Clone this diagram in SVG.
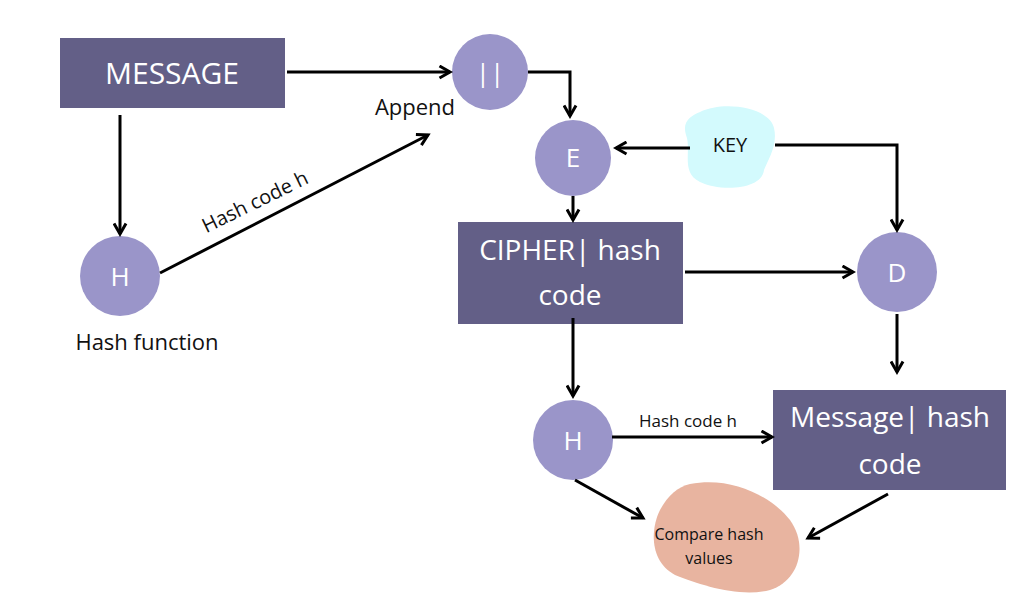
<svg xmlns="http://www.w3.org/2000/svg" width="1024" height="597" viewBox="0 0 1024 597">
<defs>
<marker id="ah" viewBox="0 0 10 10" refX="8" refY="5" markerWidth="5" markerHeight="5" orient="auto"><path d="M1,1 L8,5 L1,9" fill="none" stroke="#000" stroke-width="2"/></marker>
<style>
.box{fill:#635f87}.circ{fill:#9a95c9}
.wt{font-family:"Open Sans","Liberation Sans",sans-serif;fill:#fff;text-anchor:middle}
.bt{font-family:"Open Sans","Liberation Sans",sans-serif;fill:#111;text-anchor:middle}
.c path,.c line{stroke:#000;stroke-width:3;fill:none;marker-end:url(#ah)}
</style>
</defs>
<rect width="1024" height="597" fill="#fff"/>
<g id="message"><rect class="box" x="60" y="38" width="225" height="70"/><text class="wt" x="172" y="84" font-size="30">MESSAGE</text></g>
<g id="append"><circle class="circ" cx="490" cy="72" r="38"/><text class="wt" x="490" y="82" font-size="26">||</text></g>
<g id="e"><circle class="circ" cx="573" cy="158" r="38"/><text class="wt" x="573" y="167" font-size="26">E</text></g>
<g id="key"><path d="M700,112 C725,100 770,108 774,128 C778,145 768,160 764,170 C762,190 720,192 700,182 C680,172 692,150 686,135 C682,122 690,116 700,112Z" fill="#d3fafd"/><text class="bt" x="730" y="152" font-size="20">KEY</text></g>
<g id="h1"><circle class="circ" cx="120" cy="276" r="40"/><text class="wt" x="120" y="286" font-size="26">H</text></g>
<g id="cipher"><rect class="box" x="458" y="222" width="225" height="102"/><text class="wt" x="570" y="260" font-size="28">CIPHER| hash</text><text class="wt" x="570" y="305" font-size="28">code</text></g>
<g id="d"><circle class="circ" cx="897" cy="272" r="40"/><text class="wt" x="897" y="282" font-size="26">D</text></g>
<g id="h2"><circle class="circ" cx="573" cy="440" r="40"/><text class="wt" x="573" y="450" font-size="26">H</text></g>
<g id="msghash"><rect class="box" x="773" y="390" width="233" height="100"/><text class="wt" x="890" y="427" font-size="28">Message| hash</text><text class="wt" x="890" y="474" font-size="28">code</text></g>
<g id="compare"><path d="M690,484 C730,476 770,495 790,520 C808,545 800,580 770,590 C740,598 700,585 675,575 C650,562 650,530 660,510 C668,495 678,487 690,484Z" fill="#e8b4a0"/><text class="bt" x="709" y="540" font-size="16">Compare hash</text><text class="bt" x="709" y="564" font-size="16">values</text></g>
<g id="labels">
<text class="bt" x="415" y="115" font-size="22">Append</text>
<text class="bt" x="147" y="350" font-size="22">Hash function</text>
<text class="bt" x="258" y="208" font-size="20" transform="rotate(-26 258 208)">Hash code h</text>
<text class="bt" x="688" y="427" font-size="17">Hash code h</text>
</g>
<g id="connectors" class="c">
<line x1="287" y1="72" x2="450" y2="72"/>
<path d="M528,72 H570 V116"/>
<line x1="690" y1="148" x2="616" y2="148"/>
<path d="M775,145 H897 V230"/>
<line x1="573" y1="196" x2="573" y2="220"/>
<line x1="120" y1="115" x2="120" y2="234"/>
<line x1="160" y1="273" x2="428" y2="135"/>
<line x1="685" y1="272" x2="853" y2="272"/>
<line x1="897" y1="314" x2="897" y2="372"/>
<line x1="573" y1="318" x2="573" y2="396"/>
<line x1="612" y1="437" x2="772" y2="437"/>
<line x1="575" y1="480" x2="643" y2="518"/>
<line x1="888" y1="494" x2="808" y2="538"/>
</g>
</svg>
